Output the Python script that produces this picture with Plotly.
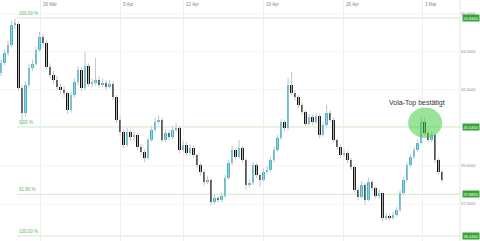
import plotly.graph_objects as go

# ---------------- data (price values) ----------------
first_open = 42.67
closes = [43.07, 43.46, 43.78, 44.57, 44.61, 42.08, 41.09, 42.20, 42.87, 43.03,
          43.58, 44.09, 43.86, 42.91, 42.59, 42.40, 42.12, 42.00, 41.88, 41.21,
          41.80, 42.32, 42.79, 42.08, 42.95, 42.24, 42.28, 42.40, 42.20, 42.28,
          42.12, 42.24, 41.72, 40.82, 40.34, 39.83, 40.34, 40.14, 40.22, 39.75,
          39.55, 39.32, 40.03, 40.42, 40.74, 40.82, 40.03, 40.30, 40.14, 40.42,
          40.50, 39.63, 39.83, 39.51, 39.71, 39.43, 39.04, 38.76, 38.37, 38.45,
          37.58, 37.74, 37.66, 37.82, 38.53, 39.12, 39.63, 39.35, 39.71, 39.24,
          38.25, 38.33, 39.04, 38.64, 38.45, 38.76, 38.84, 39.24, 39.63, 40.10,
          40.74, 40.50, 42.20, 41.88, 41.72, 41.41, 41.13, 40.66, 40.93, 40.74,
          40.97, 40.22, 40.62, 41.09, 40.82, 40.03, 39.75, 39.43, 39.51, 39.24,
          38.96, 38.05, 37.78, 38.25, 37.66, 38.37, 38.13, 37.82, 37.93, 36.95,
          37.03, 36.95, 37.07, 37.26, 37.93, 38.45, 39.04, 39.35, 39.63, 39.91,
          40.74, 40.30, 40.03, 40.22, 39.24, 38.76, 38.45]
highs = [43.20, 43.60, 43.95, 44.72, 44.80, 44.70, 42.20, 42.35, 43.05, 43.20,
         43.70, 44.29, 44.20, 43.95, 43.05, 42.75, 42.55, 42.25, 42.15, 41.95,
         41.95, 42.45, 42.95, 42.90, 43.50, 43.05, 42.45, 43.26, 42.55, 42.45,
         42.40, 42.40, 42.35, 41.80, 40.95, 40.45, 40.50, 40.45, 40.40, 40.30,
         39.88, 39.65, 40.15, 40.55, 40.90, 41.00, 40.90, 40.45, 40.40, 40.58,
         40.70, 40.58, 40.00, 39.95, 39.85, 39.80, 39.50, 39.12, 38.85, 38.60,
         38.52, 37.85, 37.82, 37.95, 38.65, 39.25, 39.78, 39.70, 40.03, 39.80,
         39.30, 38.45, 39.15, 39.12, 38.72, 38.90, 39.00, 39.35, 39.75, 40.22,
         40.85, 40.82, 42.47, 42.71, 42.00, 41.80, 41.50, 41.20, 41.05, 41.02,
         41.10, 41.05, 40.75, 41.41, 41.20, 40.90, 40.10, 39.85, 39.65, 39.60,
         39.32, 39.02, 38.15, 38.40, 38.32, 38.55, 38.45, 38.20, 38.08, 38.00,
         37.15, 37.12, 37.20, 37.40, 38.05, 38.58, 39.15, 39.48, 39.75, 40.05,
         40.94, 40.90, 40.40, 40.35, 40.30, 39.32, 38.85]
lows = [42.55, 42.98, 43.35, 43.70, 44.40, 41.95, 40.62, 40.95, 42.10, 42.75,
        42.95, 43.50, 43.75, 42.80, 42.45, 42.25, 41.98, 41.85, 41.70, 41.05,
        41.10, 41.70, 42.20, 41.95, 42.00, 42.12, 42.10, 42.18, 42.08, 42.10,
        41.98, 42.05, 41.60, 40.70, 40.20, 39.70, 39.75, 40.00, 40.00, 39.62,
        39.42, 39.15, 39.25, 39.95, 40.35, 40.65, 39.92, 39.95, 40.00, 40.05,
        40.35, 39.50, 39.55, 39.40, 39.42, 39.30, 38.92, 38.62, 38.22, 38.28,
        37.46, 37.50, 37.55, 37.58, 37.75, 38.45, 39.05, 39.25, 39.28, 39.12,
        38.05, 38.15, 38.25, 38.52, 38.18, 38.38, 38.68, 38.75, 39.15, 39.55,
        40.02, 40.38, 40.42, 41.78, 41.60, 41.30, 41.00, 40.55, 40.58, 40.62,
        40.66, 40.10, 40.15, 40.55, 40.72, 39.92, 39.65, 39.32, 39.35, 39.12,
        38.85, 37.95, 37.65, 37.70, 37.46, 37.60, 38.00, 37.72, 37.72, 36.80,
        36.85, 36.85, 36.88, 37.00, 37.18, 37.85, 38.38, 38.95, 39.28, 39.55,
        39.85, 40.20, 39.92, 39.95, 39.12, 38.65, 38.35]

date_pos = [11.14, 34.0, 52.0, 74.86, 97.71, 120.29]
date_labels = ["26 Mär", "5 Apr", "12 Apr", "19 Apr", "26 Apr", "3 Mai"]
y_ticks = [45.0, 43.5, 42.0, 39.0, 37.5]
fib_levels = [44.84, 40.54, 37.8826, 36.24]
fib_labels = ["100.00 %", "0.00 %", "61.80 %", "100.00 %"]
fib_start = 4.57
note_text = "Vola-Top bestätigt"

# ---------------- build ----------------
opens = [first_open] + closes[:-1]
idx = list(range(len(closes)))

UP = "#2cbcdc"
DOWN = "#111111"
WICK = "#c4c4c4"
FIB = "#cdeac6"
FIBTXT = "#5cb85c"
FONT = "Liberation Sans, Arial, sans-serif"

fig = go.Figure()

# wicks
wx, wy = [], []
for i, h, l in zip(idx, highs, lows):
    wx += [i, i, None]
    wy += [l, h, None]
fig.add_trace(go.Scatter(x=wx, y=wy, mode="lines",
                         line=dict(color=WICK, width=1), hoverinfo="skip",
                         showlegend=False))

# bodies
for up, col in [(True, UP), (False, DOWN)]:
    xs, base, ht = [], [], []
    for i, o, c in zip(idx, opens, closes):
        if (c >= o) == up:
            xs.append(i)
            base.append(min(o, c))
            ht.append(max(abs(c - o), 0.03))
    fig.add_trace(go.Bar(x=xs, y=ht, base=base, width=0.72,
                         marker=dict(color=col, line=dict(width=0)),
                         showlegend=False, hoverinfo="skip"))

x_max = 131.1
shapes = []
annotations = []

# fib lines + labels
for lvl, lab in zip(fib_levels, fib_labels):
    shapes.append(dict(type="line", xref="x", yref="y", x0=fib_start, x1=x_max,
                       y0=lvl, y1=lvl, line=dict(color=FIB, width=1), layer="below"))
    annotations.append(dict(x=fib_start, y=lvl, xref="x", yref="y", text=lab,
                            showarrow=False, xanchor="left", yanchor="bottom",
                            font=dict(size=4.5, color=FIBTXT, family=FONT)))
    annotations.append(dict(x=1, y=lvl, xref="paper", yref="y", text=f"{lvl:.4f}",
                            showarrow=False, xanchor="left", yanchor="middle", xshift=2,
                            bgcolor="#35a535", borderpad=0.5,
                            font=dict(size=4, color="white", family=FONT)))

# date labels at top
for p, lab in zip(date_pos, date_labels):
    annotations.append(dict(x=p, y=1, xref="x", yref="paper", text=lab,
                            showarrow=False, xanchor="left", yanchor="top", xshift=1,
                            font=dict(size=4.5, color="#888888", family=FONT)))

# ellipse and note
shapes.append(dict(type="circle", xref="x", yref="y", x0=116.3, x1=126.0,
                   y0=40.10, y1=41.31, fillcolor="rgba(70,205,70,0.55)",
                   line=dict(width=0), layer="above"))
annotations.append(dict(x=118.9, y=41.49, xref="x", yref="y", text=note_text,
                        showarrow=False, xanchor="center", yanchor="middle",
                        font=dict(size=7, color="#333333", family=FONT)))

# right border
shapes.append(dict(type="line", xref="paper", yref="paper", x0=1, x1=1, y0=0, y1=1,
                   line=dict(color="#e6e6e6", width=1)))

fig.update_layout(
    width=480, height=241,
    margin=dict(l=0, r=20, t=0, b=0),
    paper_bgcolor="white", plot_bgcolor="white",
    barmode="overlay", bargap=0,
    showlegend=False,
    shapes=shapes, annotations=annotations,
    xaxis=dict(range=[-0.3, x_max], tickvals=date_pos, showticklabels=False,
               showgrid=True, gridcolor="#efefef", gridwidth=1, zeroline=False,
               ticks="", fixedrange=True),
    yaxis=dict(range=[36.04, 45.55], side="right", tickvals=y_ticks,
               ticktext=[f"{v:.4f}" for v in y_ticks], showgrid=True,
               gridcolor="#f6f6f6", zeroline=False, ticks="",
               tickfont=dict(size=4, color="#888888", family=FONT)),
)

fig.write_html("out.html")
